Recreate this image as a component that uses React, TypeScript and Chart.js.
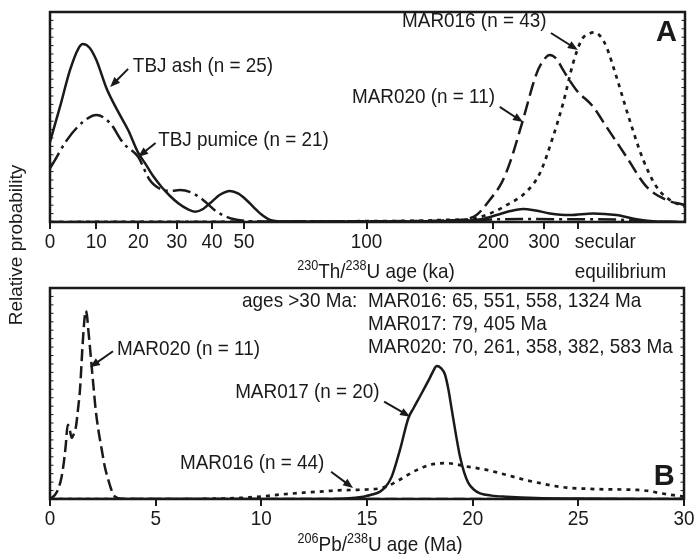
import React, { useEffect, useRef } from 'react';
import { Chart, registerables } from 'chart.js';

Chart.register(...registerables);

const FONT = '"Liberation Sans", Arial, Helvetica, sans-serif';
const INK = '#1a1a1a';
const SX = 0.9; // horizontal text compression seen in the reference
const TXT = 21;

// ---------- Panel A: 230Th/238U (x axis is linear in activity ratio) ----------
const LAMBDA_230 = Math.LN2 / 75.69; // 1/ka
const ageToRatio = (ka: number) => 1 - Math.exp(-LAMBDA_230 * ka);
const thTickAges = [0, 10, 20, 30, 40, 50, 100, 200, 300];
const thTickLabels = ['0', '10', '20', '30', '40', '50', '100', '200', '300'];
const secularRatio = 1;
const secularLabel = ['secular', 'equilibrium'];
const thAxisMax = 1.203;

const tbjAshX = [0, 0.019, 0.038, 0.054, 0.062, 0.075, 0.088, 0.107, 0.128, 0.148, 0.167, 0.18, 0.195, 0.211, 0.227, 0.243, 0.26, 0.275, 0.29, 0.303, 0.322, 0.341, 0.357, 0.372, 0.386, 0.398, 0.417, 0.45, 0.6, 0.75, 0.8, 0.82, 0.846, 0.872, 0.896, 0.92, 0.947, 0.985, 1.029, 1.073, 1.111, 1.142, 1.17, 1.203];
const tbjAshY = [0.382, 0.549, 0.724, 0.827, 0.848, 0.83, 0.77, 0.637, 0.53, 0.438, 0.33, 0.28, 0.22, 0.168, 0.125, 0.089, 0.062, 0.049, 0.062, 0.089, 0.13, 0.148, 0.135, 0.105, 0.07, 0.041, 0.01, 0.002, 0.002, 0.003, 0.008, 0.015, 0.033, 0.052, 0.062, 0.055, 0.041, 0.033, 0.041, 0.033, 0.013, 0.003, 0.001, 0];

const tbjPumiceX = [0, 0.006, 0.032, 0.063, 0.088, 0.114, 0.139, 0.167, 0.189, 0.215, 0.23, 0.246, 0.268, 0.29, 0.316, 0.347, 0.372, 0.42, 0.5, 0.6, 0.7, 0.8, 0.85, 0.9, 1.0, 1.07, 1.12, 1.203];
const tbjPumiceY = [0.255, 0.28, 0.39, 0.478, 0.51, 0.47, 0.375, 0.31, 0.2, 0.152, 0.148, 0.152, 0.14, 0.105, 0.049, 0.014, 0.005, 0.002, 0.002, 0.002, 0.003, 0.008, 0.013, 0.014, 0.013, 0.012, 0.004, 0];

const mar020AX = [0, 0.4, 0.5, 0.6, 0.7, 0.75, 0.79, 0.808, 0.833, 0.855, 0.871, 0.896, 0.922, 0.935, 0.947, 0.96, 0.972, 0.997, 1.029, 1.054, 1.092, 1.13, 1.168, 1.203];
const mar020AY = [0, 0, 0.002, 0.003, 0.005, 0.007, 0.015, 0.033, 0.105, 0.184, 0.28, 0.486, 0.708, 0.77, 0.795, 0.775, 0.724, 0.629, 0.549, 0.454, 0.311, 0.168, 0.105, 0.081];

const mar016AX = [0, 0.4, 0.5, 0.6, 0.7, 0.75, 0.8, 0.833, 0.865, 0.903, 0.928, 0.953, 0.972, 0.991, 1.007, 1.02, 1.032, 1.044, 1.054, 1.073, 1.098, 1.124, 1.149, 1.174, 1.203];
const mar016AY = [0, 0.001, 0.002, 0.004, 0.006, 0.01, 0.015, 0.04, 0.08, 0.145, 0.232, 0.406, 0.565, 0.756, 0.867, 0.895, 0.903, 0.88, 0.835, 0.692, 0.486, 0.295, 0.168, 0.105, 0.073];

// ---------- Panel B: 206Pb/238U age (Ma) ----------
const pbTicks = [0, 5, 10, 15, 20, 25, 30];

const mar020BX = [0, 0.24, 0.4, 0.55, 0.65, 0.74, 0.84, 0.93, 1.03, 1.13, 1.23, 1.33, 1.42, 1.53, 1.62, 1.69, 1.75, 1.81, 1.89, 1.97, 2.07, 2.16, 2.3, 2.45, 2.6, 2.76, 2.9, 3.0, 3.15, 3.3, 3.6, 30];
const mar020BY = [0, 0.02, 0.05, 0.106, 0.17, 0.249, 0.352, 0.33, 0.29, 0.31, 0.344, 0.43, 0.519, 0.71, 0.84, 0.892, 0.87, 0.805, 0.72, 0.63, 0.52, 0.424, 0.32, 0.233, 0.15, 0.09, 0.045, 0.02, 0.007, 0.002, 0, 0];

const mar017BX = [0, 13, 14, 14.83, 15.2, 15.62, 15.9, 16.17, 16.56, 16.96, 17.2, 17.51, 17.98, 18.15, 18.3, 18.5, 18.69, 18.85, 19.01, 19.2, 19.4, 19.6, 19.8, 20.05, 20.35, 20.9, 21.6, 23, 25, 30];
const mar017BY = [0, 0, 0.002, 0.011, 0.02, 0.035, 0.06, 0.106, 0.233, 0.384, 0.43, 0.487, 0.575, 0.61, 0.63, 0.62, 0.59, 0.52, 0.424, 0.31, 0.201, 0.125, 0.075, 0.045, 0.027, 0.016, 0.011, 0.005, 0.002, 0];

const mar016BX = [0, 7, 8, 9, 10, 11, 12, 12.78, 13.4, 14.35, 15, 15.6, 16, 16.4, 16.8, 17.2, 17.6, 17.98, 18.4, 18.77, 19.2, 19.56, 20.1, 20.66, 21.3, 21.9, 22.5, 23.2, 23.8, 24.45, 25.3, 26.2, 27, 27.8, 28.4, 28.9, 29.5, 30];
const mar016BY = [0, 0, 0.002, 0.005, 0.012, 0.022, 0.03, 0.035, 0.04, 0.043, 0.045, 0.05, 0.062, 0.083, 0.106, 0.13, 0.148, 0.162, 0.168, 0.17, 0.165, 0.157, 0.148, 0.138, 0.122, 0.106, 0.09, 0.075, 0.063, 0.054, 0.049, 0.046, 0.045, 0.043, 0.037, 0.027, 0.018, 0.011];

// ---------- Annotations (data coordinates) ----------
type Note = { text: string; x: number; y: number; from?: [number, number]; to?: [number, number] };
const notesA: Note[] = [
  { text: 'TBJ ash (n = 25)', x: 0.157, y: 0.743, from: [0.148, 0.729], to: [0.114, 0.643] },
  { text: 'TBJ pumice (n = 21)', x: 0.205, y: 0.39, from: [0.2, 0.376], to: [0.167, 0.31] },
  { text: 'MAR016 (n = 43)', x: 0.667, y: 0.957, from: [0.949, 0.9], to: [1.0, 0.819] },
  { text: 'MAR020 (n = 11)', x: 0.572, y: 0.595, from: [0.852, 0.548], to: [0.896, 0.476] },
];
const notesB: Note[] = [
  { text: 'ages >30 Ma:', x: 9.09, y: 0.938 },
  { text: 'MAR016: 65, 551, 558, 1324 Ma', x: 15.05, y: 0.938 },
  { text: 'MAR017: 79, 405 Ma', x: 15.05, y: 0.829 },
  { text: 'MAR020: 70, 261, 358, 382, 583 Ma', x: 15.05, y: 0.719 },
  { text: 'MAR020 (n = 11)', x: 3.17, y: 0.71, from: [2.98, 0.7], to: [1.89, 0.624] },
  { text: 'MAR017 (n = 20)', x: 8.76, y: 0.505, from: [15.81, 0.462], to: [17.04, 0.39] },
  { text: 'MAR016 (n = 44)', x: 6.15, y: 0.171, from: [13.3, 0.129], to: [14.34, 0.052] },
];

function txt(ctx: CanvasRenderingContext2D, s: string, x: number, y: number, o: any = {}) {
  const { size = TXT, bold = false, align = 'left', baseline = 'middle', sx = SX } = o;
  ctx.save();
  ctx.font = `${bold ? 'bold ' : ''}${size}px ${FONT}`;
  ctx.fillStyle = INK;
  ctx.textAlign = align;
  ctx.textBaseline = baseline;
  ctx.translate(x, y);
  ctx.scale(sx, 1);
  ctx.fillText(s, 0, 0);
  ctx.restore();
}

function arrow(ctx: CanvasRenderingContext2D, x1: number, y1: number, x2: number, y2: number) {
  const a = Math.atan2(y2 - y1, x2 - x1);
  const c = Math.cos(a), s = Math.sin(a);
  const L = 10, W = 4;
  ctx.save();
  ctx.strokeStyle = INK;
  ctx.fillStyle = INK;
  ctx.lineWidth = 2;
  ctx.beginPath();
  ctx.moveTo(x1, y1);
  ctx.lineTo(x2 - L * 0.7 * c, y2 - L * 0.7 * s);
  ctx.stroke();
  ctx.beginPath();
  ctx.moveTo(x2, y2);
  ctx.lineTo(x2 - L * c + W * s, y2 - L * s - W * c);
  ctx.lineTo(x2 - L * c - W * s, y2 - L * s + W * c);
  ctx.closePath();
  ctx.fill();
  ctx.restore();
}

function supTitle(ctx: CanvasRenderingContext2D, parts: [string, boolean][], cx: number, base: number) {
  const widths = parts.map(([t, sup]) => {
    ctx.font = `${sup ? 14 : TXT}px ${FONT}`;
    return ctx.measureText(t).width * SX;
  });
  const total = widths.reduce((p, q) => p + q, 0);
  let x = cx - total / 2;
  parts.forEach(([t, sup], i) => {
    txt(ctx, t, x, sup ? base - 8 : base, { size: sup ? 14 : TXT, baseline: 'alphabetic' });
    x += widths[i];
  });
}

function decor(cfg: {
  notes: Note[];
  letter: string;
  letterAt: [number, number];
  label: (v: number, i: number) => string;
  extra?: (chart: any) => void;
}) {
  return {
    id: 'decor',
    afterDatasetsDraw(chart: any) {
      const { ctx, chartArea: a, scales } = chart;
      const xs = scales.x, ys = scales.y;
      ctx.save();
      ctx.strokeStyle = INK;
      ctx.lineWidth = 2.5;
      ctx.strokeRect(a.left, a.top, a.right - a.left, a.bottom - a.top);
      ctx.lineWidth = 1;
      ctx.beginPath();
      ys.ticks.forEach((t: any) => {
        const py = ys.getPixelForValue(t.value);
        ctx.moveTo(a.left, py);
        ctx.lineTo(a.left + 3.5, py);
        ctx.moveTo(a.right - 3.5, py);
        ctx.lineTo(a.right, py);
      });
      ctx.stroke();
      ctx.restore();
      xs.ticks.forEach((t: any, i: number) => {
        const lab = cfg.label(t.value, i);
        if (lab) txt(ctx, lab, xs.getPixelForValue(t.value), a.bottom + 26, { align: 'center', baseline: 'alphabetic' });
      });
      cfg.notes.forEach((n) => {
        txt(ctx, n.text, xs.getPixelForValue(n.x), ys.getPixelForValue(n.y));
        if (n.from && n.to) {
          arrow(ctx, xs.getPixelForValue(n.from[0]), ys.getPixelForValue(n.from[1]), xs.getPixelForValue(n.to[0]), ys.getPixelForValue(n.to[1]));
        }
      });
      txt(ctx, cfg.letter, xs.getPixelForValue(cfg.letterAt[0]), ys.getPixelForValue(cfg.letterAt[1]), { size: 29, bold: true, align: 'center', sx: 1 });
      if (cfg.extra) cfg.extra(chart);
    },
  };
}

const lineDs = (xs: number[], ys: number[], dash: number[], width = 2.5) => ({
  data: xs.map((x, i) => ({ x, y: ys[i] })),
  borderColor: INK,
  borderWidth: width,
  borderDash: dash,
  borderCapStyle: 'butt',
  pointRadius: 0,
  cubicInterpolationMode: 'monotone',
  fill: false,
});

const yScale = {
  min: 0,
  max: 1,
  ticks: { display: false, stepSize: 0.04 },
  grid: { display: false },
  border: { display: false },
  afterFit: (s: any) => { s.width = 0; },
};

const xGrid = { display: true, drawOnChartArea: false, drawTicks: true, tickLength: 7, color: INK, lineWidth: 2 };

export default function App() {
  const refA = useRef<HTMLCanvasElement>(null);
  const refB = useRef<HTMLCanvasElement>(null);

  useEffect(() => {
    Chart.defaults.font.family = FONT;
    const chartA = new Chart(refA.current as HTMLCanvasElement, {
      type: 'line',
      data: {
        datasets: [
          lineDs(tbjAshX, tbjAshY, []),
          lineDs(tbjPumiceX, tbjPumiceY, [18, 5, 3, 5]),
          lineDs(mar020AX, mar020AY, [14, 6]),
          lineDs(mar016AX, mar016AY, [4, 5], 2.7),
        ] as any,
      },
      options: {
        responsive: false,
        animation: false,
        layout: { padding: { left: 50, right: 12, top: 12, bottom: 0 } },
        plugins: { legend: { display: false }, tooltip: { enabled: false } },
        scales: {
          x: {
            type: 'linear',
            min: 0,
            max: thAxisMax,
            afterBuildTicks: (s: any) => {
              s.ticks = [...thTickAges.map((a) => ({ value: ageToRatio(a) })), { value: secularRatio }];
            },
            afterFit: (s: any) => { s.height = 554 - 222; },
            ticks: { display: false, autoSkip: false },
            grid: xGrid,
            border: { display: false },
          },
          y: yScale,
        },
      } as any,
      plugins: [
        decor({
          notes: notesA,
          letter: 'A',
          letterAt: [1.168, 0.9],
          label: (_v, i) => (i < thTickLabels.length ? thTickLabels[i] : ''),
          extra: (chart) => {
            const { ctx, scales } = chart;
            const sx = scales.x.getPixelForValue(secularRatio) - 3;
            txt(ctx, secularLabel[0], sx, 248, { baseline: 'alphabetic' });
            txt(ctx, secularLabel[1], sx, 278, { baseline: 'alphabetic' });
            supTitle(ctx, [['230', true], ['Th/', false], ['238', true], ['U age (ka)', false]], 376, 278);
            ctx.save();
            ctx.translate(17, 245);
            ctx.rotate(-Math.PI / 2);
            ctx.font = `19px ${FONT}`;
            ctx.fillStyle = INK;
            ctx.textAlign = 'center';
            ctx.textBaseline = 'middle';
            ctx.fillText('Relative probability', 0, 0);
            ctx.restore();
          },
        }) as any,
      ],
    });

    const chartB = new Chart(refB.current as HTMLCanvasElement, {
      type: 'line',
      data: {
        datasets: [
          lineDs(mar020BX, mar020BY, [12, 5]),
          lineDs(mar017BX, mar017BY, []),
          lineDs(mar016BX, mar016BY, [4, 5], 2.7),
        ] as any,
      },
      options: {
        responsive: false,
        animation: false,
        layout: { padding: { left: 50, right: 13, top: 288, bottom: 0 } },
        plugins: { legend: { display: false }, tooltip: { enabled: false } },
        scales: {
          x: {
            type: 'linear',
            min: 0,
            max: 30,
            afterBuildTicks: (s: any) => {
              s.ticks = pbTicks.map((v) => ({ value: v }));
            },
            afterFit: (s: any) => { s.height = 554 - 499; },
            ticks: { display: false, autoSkip: false },
            grid: xGrid,
            border: { display: false },
          },
          y: yScale,
        },
      } as any,
      plugins: [
        decor({
          notes: notesB,
          letter: 'B',
          letterAt: [29.06, 0.105],
          label: (_v, i) => String(pbTicks[i]),
          extra: (chart) => {
            supTitle(chart.ctx, [['206', true], ['Pb/', false], ['238', true], ['U age (Ma)', false]], 380, 551);
          },
        }) as any,
      ],
    });

    return () => {
      chartA.destroy();
      chartB.destroy();
    };
  }, []);

  const cs: React.CSSProperties = { position: 'absolute', left: 0, top: 0 };
  return (
    <div style={{ position: 'absolute', left: 0, top: 0, width: 697, height: 554, background: '#fff' }}>
      <canvas ref={refA} width={697} height={554} style={cs} />
      <canvas ref={refB} width={697} height={554} style={cs} />
    </div>
  );
}
